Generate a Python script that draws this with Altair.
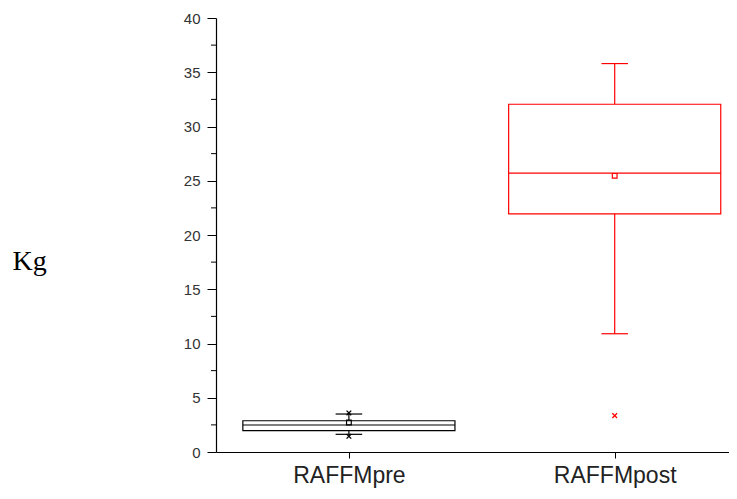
import altair as alt
import pandas as pd

categories = ["RAFFMpre", "RAFFMpost"]
positions = [1, 2]
whisker_low = [1.63, 10.9]
q1 = [1.97, 21.95]
median = [2.49, 25.7]
q3 = [2.88, 32.05]
whisker_high = [3.5, 35.8]
mean = [2.72, 25.45]
colors = ["#000000", "#ff0000"]

pct_pos = [1, 1, 2]
pct_vals = [3.6, 1.45, 3.35]
pct_cat = ["RAFFMpre", "RAFFMpre", "RAFFMpost"]

y_ticks = [0, 5, 10, 15, 20, 25, 30, 35, 40]
y_minor = [2.5, 7.5, 12.5, 17.5, 22.5, 27.5, 32.5, 37.5]

BOX_HALF = 0.399
CAP_HALF = 0.05

df = pd.DataFrame({
    "cat": categories, "pos": positions, "lo": whisker_low, "q1": q1,
    "med": median, "q3": q3, "hi": whisker_high, "mean": mean,
})
df["bx0"] = df["pos"] - BOX_HALF
df["bx1"] = df["pos"] + BOX_HALF
df["cx0"] = df["pos"] - CAP_HALF
df["cx1"] = df["pos"] + CAP_HALF

pdf = pd.DataFrame({"cat": pct_cat, "pos": pct_pos, "v": pct_vals})
mdf = pd.DataFrame({"v": y_minor})

xscale = alt.Scale(domain=[0.5, 2.43], nice=False, zero=False)
yscale = alt.Scale(domain=[0, 40], nice=False)
color = alt.Color("cat:N", scale=alt.Scale(domain=categories, range=colors), legend=None)

label_expr = "datum.value == 1 ? 'RAFFMpre' : 'RAFFMpost'"

x_axis = alt.Axis(values=[1, 2], labelExpr=label_expr, title=None, grid=False,
                  tickSize=6, tickColor="#000", domainColor="#000", domainWidth=1.2,
                  labelFont="Arial", labelFontSize=23, labelColor="#222",
                  labelPadding=6)
y_axis = alt.Axis(values=y_ticks, title="Kg", titleAngle=0, titleFont="Liberation Serif",
                  titleFontSize=28, titleFontWeight="normal", titleColor="#000",
                  titleX=-204, titleY=251, titleAlign="left", titleBaseline="alphabetic",
                  grid=False, tickSize=9, tickColor="#000", domainColor="#000", domainWidth=1.2,
                  labelFont="Arial", labelFontSize=15, labelColor="#333", labelPadding=7)

base = alt.Chart(df)

boxes = base.mark_rect(fill="white", fillOpacity=0, strokeWidth=1.2).encode(
    x=alt.X("bx0:Q", scale=xscale, axis=x_axis), x2="bx1:Q",
    y=alt.Y("q1:Q", scale=yscale, axis=y_axis), y2="q3:Q",
    stroke=alt.Stroke("cat:N", scale=alt.Scale(domain=categories, range=colors), legend=None),
)
med_rule = base.mark_rule(strokeWidth=1.2).encode(
    x=alt.X("bx0:Q", scale=xscale), x2="bx1:Q", y=alt.Y("med:Q", scale=yscale), color=color)
wlow = base.mark_rule(strokeWidth=1.2).encode(
    x=alt.X("pos:Q", scale=xscale), y=alt.Y("lo:Q", scale=yscale), y2="q1:Q", color=color)
whigh = base.mark_rule(strokeWidth=1.2).encode(
    x=alt.X("pos:Q", scale=xscale), y=alt.Y("q3:Q", scale=yscale), y2="hi:Q", color=color)
cap_low = base.mark_rule(strokeWidth=1.2).encode(
    x=alt.X("cx0:Q", scale=xscale), x2="cx1:Q", y=alt.Y("lo:Q", scale=yscale), color=color)
cap_high = base.mark_rule(strokeWidth=1.2).encode(
    x=alt.X("cx0:Q", scale=xscale), x2="cx1:Q", y=alt.Y("hi:Q", scale=yscale), color=color)
means = base.mark_point(shape="square", size=22, filled=False, strokeWidth=1.2, opacity=1).encode(
    x=alt.X("pos:Q", scale=xscale), y=alt.Y("mean:Q", scale=yscale), color=color)
pct = alt.Chart(pdf).mark_point(shape="M-1,-1L1,1M1,-1L-1,1", size=22, filled=False,
                                strokeWidth=1.3, opacity=1).encode(
    x=alt.X("pos:Q", scale=xscale), y=alt.Y("v:Q", scale=yscale), color=color)
minor = alt.Chart(mdf).mark_rule(color="#000", strokeWidth=1).encode(
    x=alt.value(-5), x2=alt.value(0), y=alt.Y("v:Q", scale=yscale))

chart = alt.layer(boxes, med_rule, wlow, whigh, cap_low, cap_high, means, pct, minor).properties(
    width=513, height=434,
    background="white",
    autosize=alt.AutoSizeParams(type="none"),
    padding={"left": 208, "top": 10, "right": 0, "bottom": 39},
).configure_view(strokeWidth=0, stroke="transparent")

chart.save("out.html", embed_options={"renderer": "svg", "actions": False})
